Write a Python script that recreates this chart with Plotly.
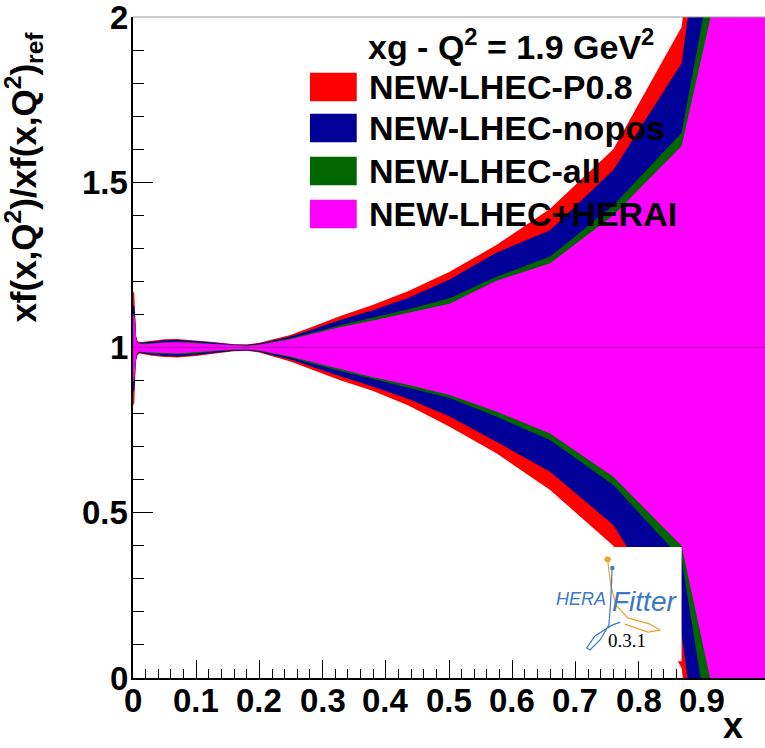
import plotly.graph_objects as go

# x grid of the ratio bands
x_grid = [0.0001, 0.002, 0.003, 0.004, 0.005, 0.007, 0.01, 0.02, 0.03, 0.05,
          0.07, 0.10, 0.13, 0.16, 0.18, 0.20, 0.216, 0.249, 0.286, 0.329,
          0.378, 0.435, 0.501, 0.575, 0.660, 0.760, 0.868, 1.0]

# upper / lower edges of the xg ratio uncertainty bands, Q^2 = 1.9 GeV^2
p08_up = [1.170, 1.165, 1.120, 1.060, 1.035, 1.020, 1.016, 1.018, 1.020, 1.025,
          1.026, 1.022, 1.016, 1.010, 1.009, 1.014, 1.022, 1.038, 1.064, 1.096,
          1.128, 1.170, 1.229, 1.310, 1.420, 1.600, 1.970, 4.000]
p08_lo = [0.826, 0.830, 0.875, 0.935, 0.960, 0.976, 0.982, 0.978, 0.975, 0.971,
          0.970, 0.974, 0.982, 0.989, 0.990, 0.985, 0.976, 0.958, 0.932, 0.900,
          0.870, 0.825, 0.760, 0.680, 0.569, 0.400, 0.030, -2.000]

nopos_up = [1.130, 1.125, 1.100, 1.050, 1.030, 1.018, 1.014, 1.016, 1.018, 1.022,
            1.023, 1.020, 1.014, 1.009, 1.008, 1.012, 1.019, 1.033, 1.056, 1.084,
            1.112, 1.150, 1.206, 1.287, 1.355, 1.537, 1.860, 3.700]
nopos_lo = [0.866, 0.870, 0.900, 0.945, 0.967, 0.980, 0.984, 0.981, 0.978, 0.974,
            0.973, 0.977, 0.984, 0.990, 0.991, 0.987, 0.979, 0.964, 0.941, 0.912,
            0.883, 0.845, 0.791, 0.715, 0.624, 0.463, 0.130, -1.700]

all_up = [1.100, 1.098, 1.085, 1.045, 1.028, 1.016, 1.012, 1.013, 1.014, 1.017,
          1.018, 1.016, 1.011, 1.007, 1.006, 1.010, 1.016, 1.028, 1.046, 1.068,
          1.090, 1.115, 1.149, 1.214, 1.275, 1.430, 1.650, 3.000]
all_lo = [0.893, 0.900, 0.915, 0.952, 0.970, 0.982, 0.986, 0.985, 0.982, 0.980,
          0.979, 0.982, 0.988, 0.992, 0.993, 0.989, 0.983, 0.970, 0.950, 0.928,
          0.905, 0.879, 0.847, 0.791, 0.720, 0.584, 0.360, -1.220]

hera_up = [1.098, 1.095, 1.080, 1.040, 1.025, 1.015, 1.011, 1.010, 1.012, 1.015,
           1.016, 1.013, 1.009, 1.005, 1.005, 1.008, 1.014, 1.025, 1.042, 1.062,
           1.081, 1.104, 1.132, 1.202, 1.255, 1.400, 1.610, 2.730]
hera_lo = [0.898, 0.903, 0.920, 0.955, 0.972, 0.983, 0.988, 0.986, 0.984, 0.983,
           0.982, 0.987, 0.990, 0.994, 0.994, 0.991, 0.985, 0.973, 0.955, 0.934,
           0.911, 0.887, 0.856, 0.806, 0.740, 0.609, 0.400, -0.770]

central = [1.0] * len(x_grid)

series_names = ["NEW-LHEC-P0.8", "NEW-LHEC-nopos", "NEW-LHEC-all", "NEW-LHEC+HERAI"]
series_colors = ["#ff0000", "#000099", "#006600", "#ff00ff"]
bands = [(p08_up, p08_lo), (nopos_up, nopos_lo), (all_up, all_lo), (hera_up, hera_lo)]

x_ticks = [0, 0.1, 0.2, 0.3, 0.4, 0.5, 0.6, 0.7, 0.8, 0.9]
x_ticktext = ["0", "0.1", "0.2", "0.3", "0.4", "0.5", "0.6", "0.7", "0.8", "0.9"]
y_ticks = [0, 0.5, 1, 1.5, 2]
y_ticktext = ["0", "0.5", "1", "1.5", "2"]

FONT = "Liberation Sans"
TICK_SIZE = 33

fig = go.Figure()

for name, color, (up, lo) in zip(series_names, series_colors, bands):
    fig.add_trace(go.Scatter(
        x=x_grid + x_grid[::-1],
        y=up + lo[::-1],
        fill="toself", fillcolor=color,
        line=dict(width=0, color=color),
        mode="lines", name=name, hoverinfo="skip",
    ))

fig.add_trace(go.Scatter(x=[0] + x_grid, y=[1.0] + central, mode="lines",
                         line=dict(color="rgba(110,0,110,0.55)", width=1),
                         hoverinfo="skip", showlegend=False))

fig.update_layout(
    width=765, height=748,
    margin=dict(l=133, r=0, t=17, b=70),
    plot_bgcolor="white", paper_bgcolor="white",
    showlegend=False,
    xaxis=dict(
        range=[0, 1], showgrid=False, zeroline=False,
        showline=True, linecolor="black", linewidth=2,
        ticks="inside", ticklen=18, tickwidth=1, tickcolor="black",
        tickvals=x_ticks, showticklabels=False,
        minor=dict(dtick=0.02, ticklen=9, tickwidth=1, tickcolor="black",
                   ticks="inside", showgrid=False),
        layer="below traces",
    ),
    yaxis=dict(
        range=[0, 2], showgrid=False, zeroline=False,
        showline=True, linecolor="black", linewidth=2,
        ticks="inside", ticklen=20, tickwidth=1, tickcolor="black",
        tickvals=y_ticks, showticklabels=False,
        minor=dict(dtick=0.1, ticklen=11, tickwidth=1, tickcolor="black",
                   ticks="inside", showgrid=False),
        layer="below traces",
    ),
)

shapes = []
annotations = []

# tick labels, placed in axis units
for xv, txt in zip(x_ticks, x_ticktext):
    annotations.append(dict(
        text="<b>%s</b>" % txt, xref="x", yref="paper", x=xv, y=0, yshift=-22,
        xanchor="center", yanchor="middle", showarrow=False,
        font=dict(family=FONT, size=TICK_SIZE, color="black")))
for yv, txt in zip(y_ticks, y_ticktext):
    annotations.append(dict(
        text="<b>%s</b>" % txt, xref="paper", yref="y", x=0, y=yv, xshift=-3,
        xanchor="right", yanchor="middle", showarrow=False,
        font=dict(family=FONT, size=TICK_SIZE, color="black")))

# thin frame line along the top edge
shapes.append(dict(type="line", xref="paper", yref="paper", x0=0, x1=1, y0=1, y1=1,
                   line=dict(color="#999999", width=1), layer="above"))

# legend: header, colour swatches and labels
annotations.append(dict(
    text="<b>xg - Q<sup>2</sup> = 1.9 GeV<sup>2</sup></b>",
    xref="paper", yref="paper", x=0.3687, y=0.959, xanchor="left", yanchor="middle",
    showarrow=False, font=dict(family=FONT, size=34, color="black")))
row_y = [0.894, 0.832, 0.767, 0.702]
for name, color, yy in zip(series_names, series_colors, row_y):
    shapes.append(dict(type="rect", xref="paper", yref="paper",
                       x0=0.280, x1=0.354, y0=yy - 0.0215, y1=yy + 0.0215,
                       fillcolor=color, line=dict(width=0), layer="above"))
    annotations.append(dict(
        text="<b>%s</b>" % name, xref="paper", yref="paper", x=0.3703, y=yy,
        xanchor="left", yanchor="middle", showarrow=False,
        font=dict(family=FONT, size=34, color="black")))

# axis titles
annotations.append(dict(
    text="<b>xf(x,Q<sup>2</sup>)/xf(x,Q<sup>2</sup>)<sub>ref</sub></b>",
    xref="paper", yref="paper", x=0, y=0.757, xshift=-109,
    xanchor="center", yanchor="middle", textangle=-90, showarrow=False,
    font=dict(family=FONT, size=35, color="black")))
annotations.append(dict(
    text="<b>x</b>", xref="paper", yref="paper", x=0.95, y=0, yshift=-70,
    xanchor="center", yanchor="bottom", showarrow=False,
    font=dict(family=FONT, size=36, color="black")))

# HERAFitter logo panel
shapes.append(dict(type="rect", xref="x", yref="y", x0=0.644, x1=0.868, y0=0.051, y1=0.396,
                   fillcolor="white", line=dict(width=0), layer="above"))
orange_path = ("M 0.751,0.357 L 0.756,0.281 L 0.764,0.221 L 0.783,0.182 "
               "L 0.818,0.163 L 0.834,0.145 L 0.815,0.139 L 0.778,0.163")
blue_path = ("M 0.758,0.327 L 0.756,0.236 L 0.753,0.160 L 0.739,0.115 "
             "L 0.723,0.085 L 0.718,0.091 L 0.731,0.127 L 0.758,0.160 L 0.771,0.169")
shapes.append(dict(type="path", xref="x", yref="y", path=orange_path,
                   line=dict(color="#f0a030", width=1.2), layer="above"))
shapes.append(dict(type="path", xref="x", yref="y", path=blue_path,
                   line=dict(color="#3a78c8", width=1.2), layer="above"))
shapes.append(dict(type="circle", xref="x", yref="y", x0=0.746, x1=0.756, y0=0.350, y1=0.368,
                   fillcolor="#f0a030", line=dict(width=0), layer="above"))
shapes.append(dict(type="circle", xref="x", yref="y", x0=0.755, x1=0.762, y0=0.326, y1=0.340,
                   fillcolor="#3a78c8", line=dict(width=0), layer="above"))
annotations.append(dict(
    text="<i>HERA</i>", xref="x", yref="y", x=0.752, y=0.239,
    xanchor="right", yanchor="middle", showarrow=False,
    font=dict(family=FONT, size=18, color="#3a78c8")))
annotations.append(dict(
    text="<i>Fitter</i>", xref="x", yref="y", x=0.754, y=0.232,
    xanchor="left", yanchor="middle", showarrow=False,
    font=dict(family=FONT, size=28, color="#3a78c8")))
annotations.append(dict(
    text="0.3.1", xref="x", yref="y", x=0.782, y=0.112,
    xanchor="center", yanchor="middle", showarrow=False,
    font=dict(family="Liberation Serif", size=19, color="black")))

fig.update_layout(shapes=shapes, annotations=annotations)

fig.write_html("out.html")
